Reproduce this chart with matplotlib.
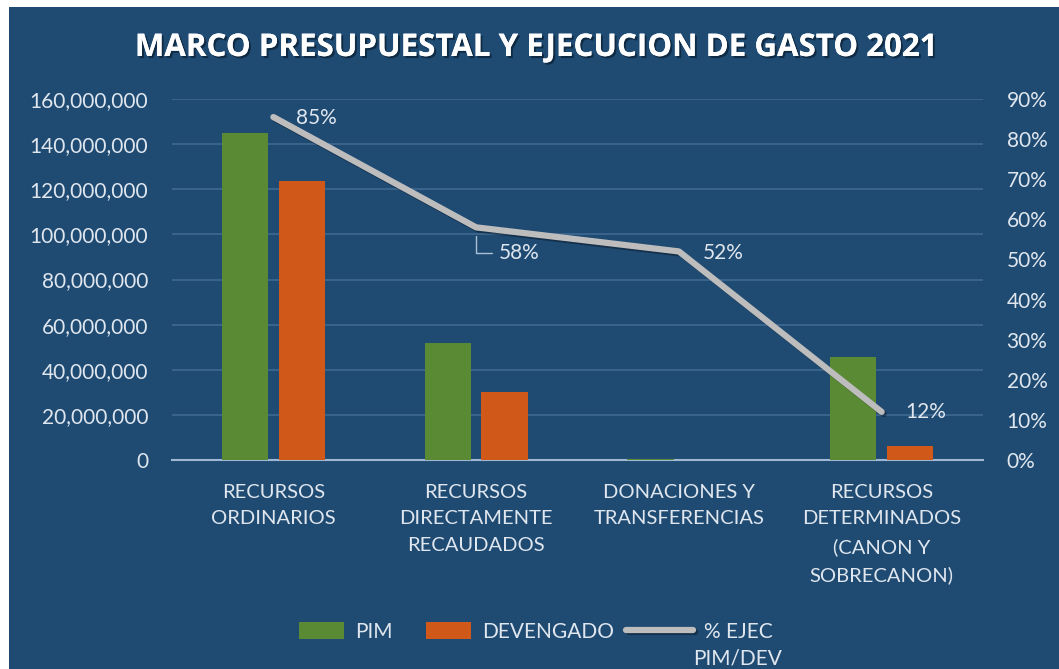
import numpy as np
import matplotlib.pyplot as plt
from matplotlib import rcParams
import matplotlib.patheffects as pe
from matplotlib.patches import Rectangle
from matplotlib.legend_handler import HandlerPatch
from matplotlib.ticker import FuncFormatter, MultipleLocator

rcParams['font.family'] = ['Lato', 'DejaVu Sans']

categorias = ['RECURSOS\nORDINARIOS',
              'RECURSOS\nDIRECTAMENTE\nRECAUDADOS',
              'DONACIONES Y\nTRANSFERENCIAS',
              'RECURSOS\nDETERMINADOS\n(CANON Y\nSOBRECANON)']
pim = [145000000, 52000000, 300000, 45500000]
devengado = [123500000, 30000000, 200000, 6000000]
ejec = [0.855, 0.58, 0.52, 0.12]
ejec_labels = ['85%', '58%', '52%', '12%']

bg = '#1f4b73'
txt = '#dfe6ee'
green = '#5b8a35'
orange = '#d0591a'
gray = '#bdbdbd'

fig = plt.figure(figsize=(10.59, 6.69), dpi=100)
fig.patch.set_facecolor('white')
fig.patches.append(Rectangle((9/1059, 0), 1, 1 - 7/669, transform=fig.transFigure,
                             facecolor=bg, edgecolor='none', zorder=-10))

ax = fig.add_axes([172/1059, 1 - 460/669, 811/1059, 361/669])
ax.set_facecolor('none')
x = np.arange(len(categorias))
w = 0.227
b1 = ax.bar(x - 0.14, pim, w, color=green, label='PIM', zorder=3)
b2 = ax.bar(x + 0.14, devengado, w, color=orange, label='DEVENGADO', zorder=3)
ax.set_xlim(-0.5, 3.5)
ax.set_ylim(0, 160000000)
ax.yaxis.set_major_locator(MultipleLocator(20000000))
ax.yaxis.set_major_formatter(FuncFormatter(lambda v, p: '{:,.0f}'.format(v)))
ax.grid(axis='y', color='#3f6991', linewidth=1.2, zorder=0)
for s in ['top', 'right', 'left']:
    ax.spines[s].set_visible(False)
ax.spines['bottom'].set_color('#9fb7d0')
ax.spines['bottom'].set_linewidth(1.5)
ax.set_xticks(x)
ax.set_xticklabels(categorias, fontsize=14.5, color=txt, linespacing=1.7, va='top')
ax.tick_params(axis='x', length=0, pad=17)
ax.tick_params(axis='y', length=0, labelsize=15, labelcolor=txt, pad=17)

ax2 = ax.twinx()
ax2.set_ylim(0, 0.9)
ax2.yaxis.set_major_locator(MultipleLocator(0.1))
ax2.yaxis.set_major_formatter(FuncFormatter(lambda v, p: '{:.0f}%'.format(v * 100)))
ax2.tick_params(axis='y', length=0, labelsize=15, labelcolor=txt, pad=17)
for s in ax2.spines.values():
    s.set_visible(False)
ln, = ax2.plot(x, ejec, color=gray, linewidth=4.5, solid_capstyle='round',
               solid_joinstyle='round', label='% EJEC', zorder=4,
               path_effects=[pe.SimpleLineShadow(offset=(1.5, -1.5), alpha=0.35), pe.Normal()])

offsets = [(43, -1), (43, -26), (44, -2), (44, 0)]
for i in range(len(ejec)):
    if i == 1:
        ax2.annotate(ejec_labels[i], (x[i], ejec[i]), xytext=offsets[i],
                     textcoords='offset pixels', ha='center', va='center',
                     fontsize=15, color=txt,
                     arrowprops=dict(arrowstyle='-', color='#a9bfd6', lw=1,
                                     connectionstyle='angle,angleA=180,angleB=90,rad=0',
                                     shrinkA=3, shrinkB=6))
    else:
        ax2.annotate(ejec_labels[i], (x[i], ejec[i]), xytext=offsets[i],
                     textcoords='offset pixels', ha='center', va='center',
                     fontsize=15, color=txt)

fig.text(536/1059, 1 - 48/669, 'MARCO PRESUPUESTAL Y EJECUCION DE GASTO 2021',
         ha='center', va='center', fontsize=22.5, fontweight='bold', color='white',
         family=['Open Sans', 'DejaVu Sans'],
         path_effects=[pe.withSimplePatchShadow(offset=(1.5, -1.5), shadow_rgbFace='#0c2238', alpha=0.8), pe.Normal()])


# patch handles narrower than the line handle, as in the original
def narrow_patch(legend, orig_handle, xdescent, ydescent, width, height, fontsize):
    ww = width * 0.68
    return Rectangle((-xdescent + width - ww, -ydescent), ww, height)


handles = [b1.patches[0], b2.patches[0], ln]
labels = ['PIM', 'DEVENGADO', '% EJEC']
leg = fig.legend(handles, labels, loc='center', bbox_to_anchor=(525/1059, 1 - 632/669),
                 ncol=3, frameon=False, fontsize=15, labelcolor=txt,
                 handlelength=3.2, handleheight=0.9, columnspacing=0.6, handletextpad=0.5,
                 handler_map={Rectangle: HandlerPatch(patch_func=narrow_patch)})

fig.canvas.draw()
bb = leg.get_texts()[2].get_window_extent()
inv = fig.transFigure.inverted()
cx, cy = inv.transform(((bb.x0 + bb.x1) / 2, bb.y0))
fig.text(cx, cy - 0.01, 'PIM/DEV', ha='center', va='top', fontsize=15, color=txt)

plt.savefig('out.png', dpi=100, facecolor=fig.get_facecolor())
